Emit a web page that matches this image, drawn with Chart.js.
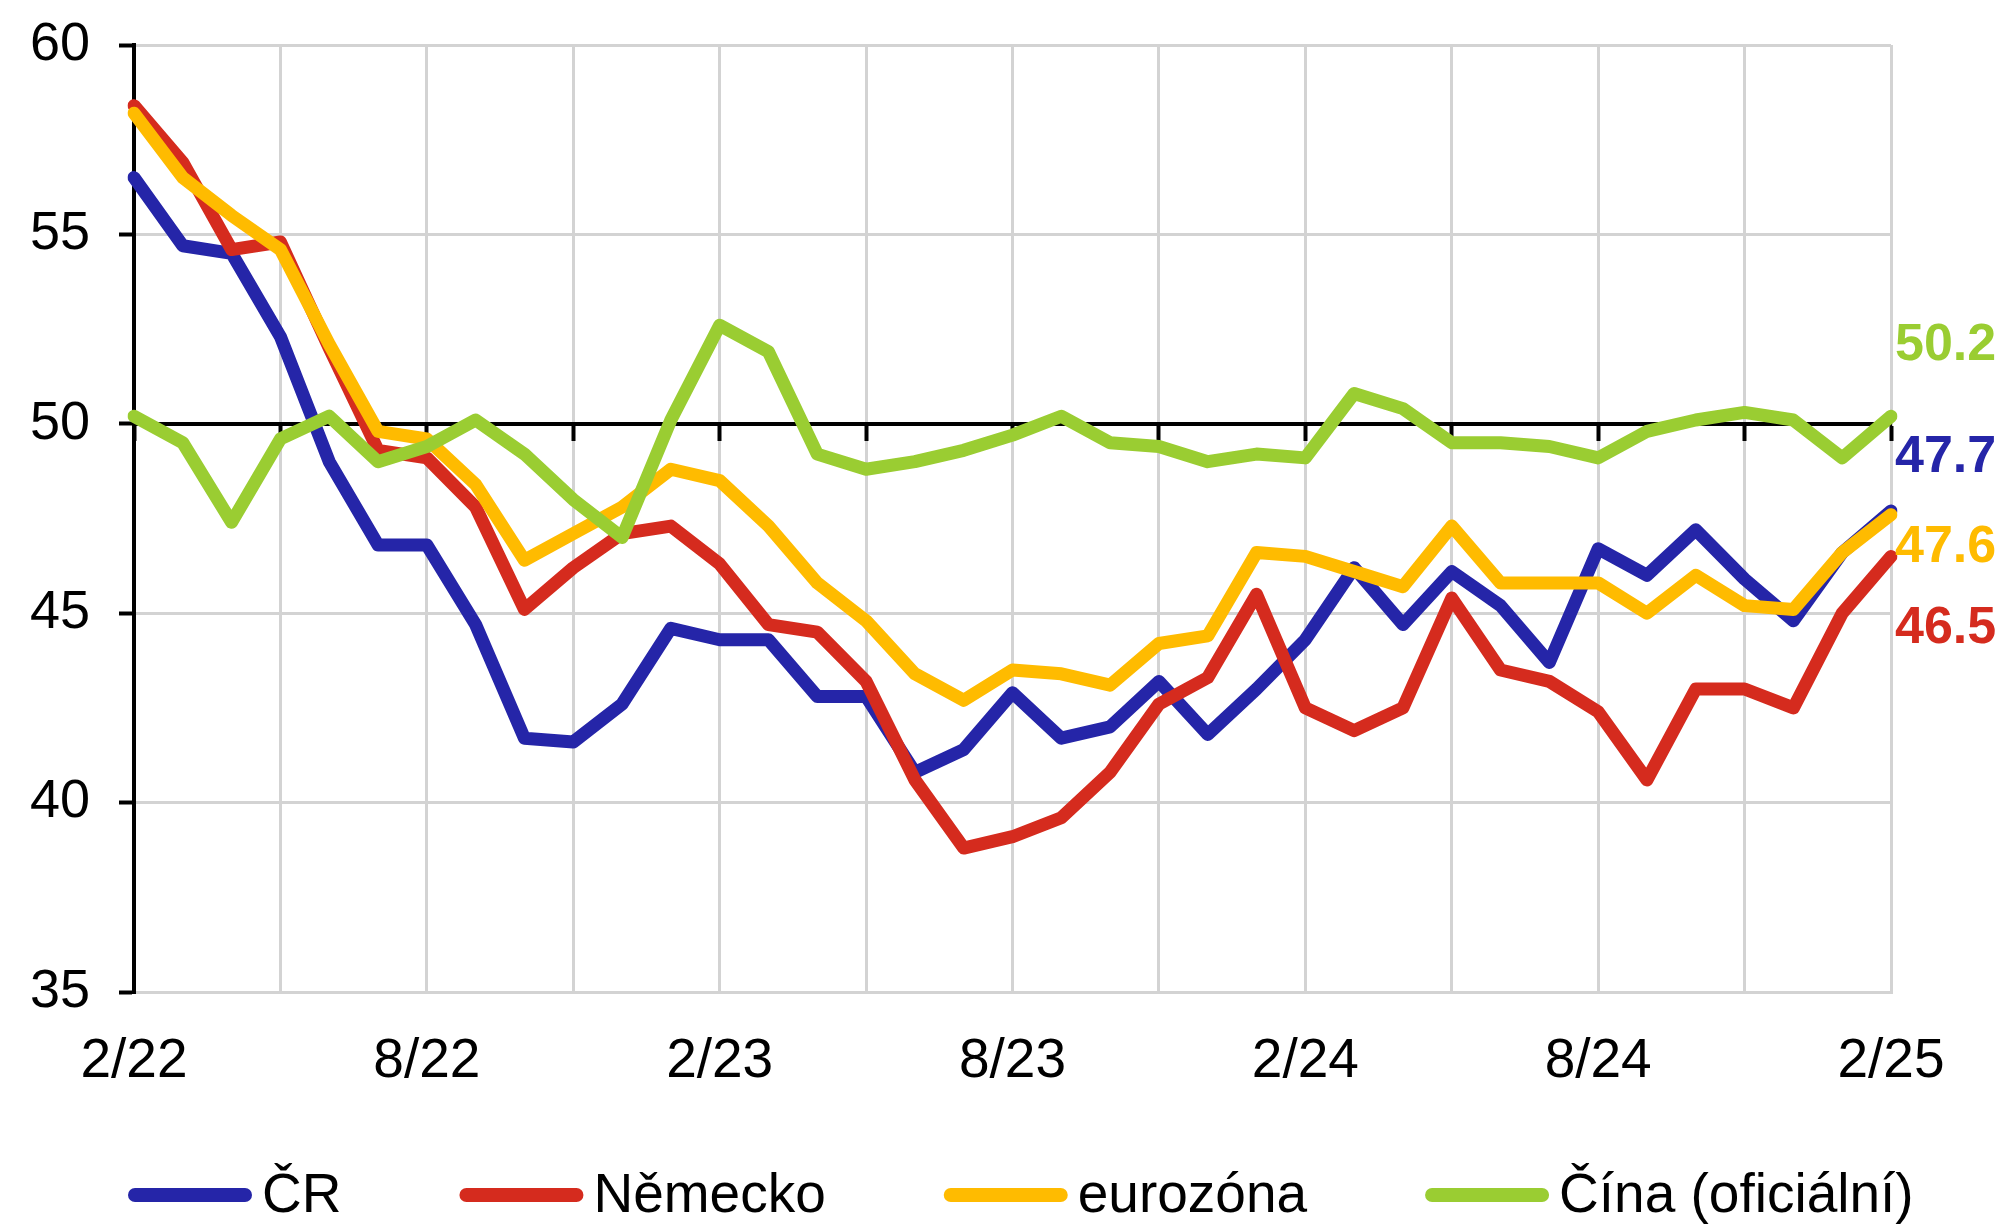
<!DOCTYPE html>
<html>
<head>
<meta charset="utf-8">
<title>PMI ve zpracovatelském průmyslu</title>
<script src="https://cdn.jsdelivr.net/npm/chart.js@4.4.1/dist/chart.umd.min.js"></script>
<style>
  html, body { margin: 0; padding: 0; background: #ffffff; }
  #wrap { width: 2008px; height: 1224px; }
</style>
</head>
<body>
<div id="wrap"><canvas id="chart" width="2008" height="1224"></canvas></div>
<script>
// Months (m/yy), February 2022 – February 2025
const months = [
  '2/22','3/22','4/22','5/22','6/22','7/22','8/22','9/22','10/22','11/22','12/22',
  '1/23','2/23','3/23','4/23','5/23','6/23','7/23','8/23','9/23','10/23','11/23','12/23',
  '1/24','2/24','3/24','4/24','5/24','6/24','7/24','8/24','9/24','10/24','11/24','12/24',
  '1/25','2/25'
];

// Manufacturing PMI by economy
const pmiCR = [
  56.5, 54.7, 54.5, 52.3, 49.0, 46.8, 46.8, 44.7, 41.7, 41.6, 42.6,
  44.6, 44.3, 44.3, 42.8, 42.8, 40.8, 41.4, 42.9, 41.7, 42.0, 43.2, 41.8,
  43.0, 44.3, 46.2, 44.7, 46.1, 45.2, 43.7, 46.7, 46.0, 47.2, 45.9, 44.8,
  46.6, 47.7
];
const pmiGermany = [
  58.4, 56.9, 54.6, 54.8, 52.0, 49.3, 49.1, 47.8, 45.1, 46.2, 47.1,
  47.3, 46.3, 44.7, 44.5, 43.2, 40.6, 38.8, 39.1, 39.6, 40.8, 42.6, 43.3,
  45.5, 42.5, 41.9, 42.5, 45.4, 43.5, 43.2, 42.4, 40.6, 43.0, 43.0, 42.5,
  45.0, 46.5
];
const pmiEurozone = [
  58.2, 56.5, 55.5, 54.6, 52.1, 49.8, 49.6, 48.4, 46.4, 47.1, 47.8,
  48.8, 48.5, 47.3, 45.8, 44.8, 43.4, 42.7, 43.5, 43.4, 43.1, 44.2, 44.4,
  46.6, 46.5, 46.1, 45.7, 47.3, 45.8, 45.8, 45.8, 45.0, 46.0, 45.2, 45.1,
  46.6, 47.6
];
const pmiChina = [
  50.2, 49.5, 47.4, 49.6, 50.2, 49.0, 49.4, 50.1, 49.2, 48.0, 47.0,
  50.1, 52.6, 51.9, 49.2, 48.8, 49.0, 49.3, 49.7, 50.2, 49.5, 49.4, 49.0,
  49.2, 49.1, 50.8, 50.4, 49.5, 49.5, 49.4, 49.1, 49.8, 50.1, 50.3, 50.1,
  49.1, 50.2
];

const seriesNames  = ['ČR', 'Německo', 'eurozóna', 'Čína (oficiální)'];
const seriesColors = ['#2525a8', '#d52b1e', '#ffbb00', '#9acd32'];
const seriesData   = [pmiCR, pmiGermany, pmiEurozone, pmiChina];
// drawing order: ČR at the back, China in front
const seriesOrder  = [4, 3, 2, 1];

// y-axis ticks
const yMin = 35, yMax = 60, yStep = 5;
const neutralLevel = 50;

const FONT = '"Liberation Sans", Arial, Helvetica, sans-serif';
const GRID = '#d3d3d3';
const CLEAR = 'rgba(0,0,0,0)';

// vertical nudge (px) of each end-value label so they do not overlap
const endLabelShift = [-53, 72, 33, -71];

const endLabels = {
  id: 'endLabels',
  afterDatasetsDraw(chart) {
    const ctx = chart.ctx;
    ctx.save();
    ctx.font = 'bold 52px ' + FONT;
    ctx.textAlign = 'left';
    ctx.textBaseline = 'middle';
    chart.data.datasets.forEach((ds, i) => {
      const meta = chart.getDatasetMeta(i);
      const last = meta.data[meta.data.length - 1];
      const value = ds.data[ds.data.length - 1];
      ctx.fillStyle = ds.borderColor;
      ctx.fillText(value.toFixed(1), last.x + 4, last.y + endLabelShift[i]);
    });
    ctx.restore();
  }
};

// single-row legend under the axis labels
const legendRow = {
  id: 'legendRow',
  afterDraw(chart) {
    const ctx = chart.ctx;
    const y = chart.height - 29;
    const lineLen = 124, lineW = 14, gap = 10, itemGap = 118;
    let x = 128;
    ctx.save();
    ctx.font = '55px ' + FONT;
    ctx.textAlign = 'left';
    ctx.textBaseline = 'middle';
    chart.data.datasets.forEach(ds => {
      ctx.strokeStyle = ds.borderColor;
      ctx.lineWidth = lineW;
      ctx.lineCap = 'round';
      ctx.beginPath();
      ctx.moveTo(x + lineW / 2, y);
      ctx.lineTo(x + lineLen - lineW / 2, y);
      ctx.stroke();
      ctx.fillStyle = '#000000';
      ctx.fillText(ds.label, x + lineLen + gap, y + 2);
      x += lineLen + gap + ctx.measureText(ds.label).width + itemGap;
    });
    ctx.restore();
  }
};

new Chart(document.getElementById('chart'), {
  type: 'line',
  data: {
    labels: months,
    datasets: seriesNames.map((name, i) => ({
      label: name,
      data: seriesData[i],
      borderColor: seriesColors[i],
      backgroundColor: seriesColors[i],
      order: seriesOrder[i]
    }))
  },
  options: {
    responsive: false,
    animation: false,
    devicePixelRatio: 1,
    layout: { padding: { left: 0, right: 117, top: 45, bottom: 132 } },
    elements: {
      line: { borderWidth: 13, borderJoinStyle: 'round', borderCapStyle: 'round', tension: 0, fill: false },
      point: { radius: 0, hoverRadius: 0 }
    },
    plugins: {
      legend: { display: false },
      tooltip: { enabled: false }
    },
    scales: {
      x: {
        type: 'category',
        position: 'bottom',
        offset: false,
        grid: {
          color: c => (c.index % 3 === 0 ? GRID : CLEAR),
          lineWidth: 3,
          drawTicks: false
        },
        border: { display: true, color: GRID, width: 3 },
        ticks: {
          autoSkip: false,
          maxRotation: 0,
          minRotation: 0,
          padding: 37,
          color: '#000000',
          font: { family: FONT, size: 55 },
          callback: (v, i) => (i % 6 === 0 ? months[i] : '')
        },
        afterFit: s => { s.height = 100; }
      },
      x50: {
        type: 'category',
        axis: 'x',
        position: { y: neutralLevel },
        offset: false,
        grid: {
          drawOnChartArea: false,
          drawTicks: true,
          tickLength: 15,
          tickWidth: 4,
          tickColor: c => (c.index % 3 === 0 ? '#000000' : CLEAR),
          color: CLEAR
        },
        border: { display: true, color: '#000000', width: 4 },
        ticks: { display: false, autoSkip: false }
      },
      y: {
        type: 'linear',
        position: 'left',
        min: yMin,
        max: yMax,
        ticks: {
          stepSize: yStep,
          padding: 29,
          color: '#000000',
          font: { family: FONT, size: 54 }
        },
        grid: {
          color: GRID,
          lineWidth: 3,
          tickLength: 15,
          tickWidth: 4,
          tickColor: '#000000'
        },
        border: { display: true, color: '#000000', width: 4 },
        afterFit: s => {
          s.width = 134;
          s.paddingTop = 0;
          s.paddingBottom = 0;
        }
      }
    }
  },
  plugins: [endLabels, legendRow]
});
</script>
</body>
</html>
